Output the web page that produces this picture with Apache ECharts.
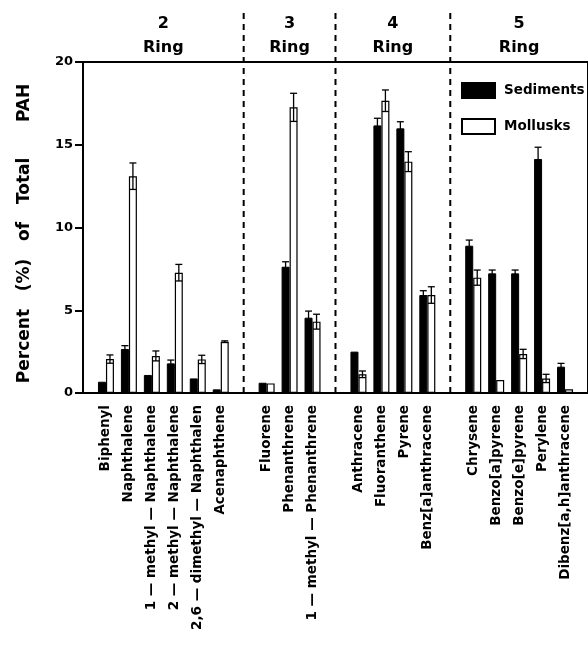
<!DOCTYPE html>
<html>
<head>
<meta charset="utf-8">
<script src="https://cdn.jsdelivr.net/npm/echarts@6/dist/echarts.min.js"></script>
<style>
  html, body { margin: 0; padding: 0; background: #fff; }
  #chart { width: 588px; height: 649px; }
</style>
</head>
<body>
<div id="chart"></div>
<script>
// Compound slots along the x axis; empty slots separate the ring groups.
const compounds = [
  '', 'Biphenyl', 'Naphthalene', '1 — methyl — Naphthalene', '2 — methyl — Naphthalene',
  '2,6 — dimethyl — Naphthalen', 'Acenaphthene', '',
  'Fluorene', 'Phenanthrene', '1 — methyl — Phenanthrene', '',
  'Anthracene', 'Fluoranthene', 'Pyrene', 'Benz[a]anthracene', '',
  'Chrysene', 'Benzo[a]pyrene', 'Benzo[e]pyrene', 'Perylene', 'Dibenz[a,h]anthracene', ''
];

// Percent of total PAH, mean and error
const sediments    = [null, 0.68, 2.66, 1.09, 1.79, 0.88, 0.22, null, 0.62, 7.63, 4.55, null, 2.50, 16.17, 15.99, 5.92, null, 8.90, 7.23, 7.23, 14.14, 1.59, null];
const sedimentsErr = [null, 0, 0.20, 0, 0.20, 0, 0, null, 0, 0.30, 0.40, null, 0, 0.43, 0.40, 0.26, null, 0.34, 0.20, 0.20, 0.71, 0.20, null];
const mollusks     = [null, 2.05, 13.10, 2.24, 7.27, 2.03, 3.10, null, 0.58, 17.26, 4.31, null, 1.13, 17.66, 13.98, 5.92, null, 6.97, 0.79, 2.36, 0.88, 0.22, null];
const mollusksErr  = [null, 0.25, 0.80, 0.30, 0.50, 0.25, 0.05, null, 0, 0.85, 0.45, null, 0.20, 0.65, 0.60, 0.50, null, 0.46, 0, 0.28, 0.25, 0, null];

// Ring-number groups
const ringNames    = ['2', '3', '4', '5'];
const ringFirst    = [1, 8, 12, 17];
const ringLast     = [6, 10, 15, 21];
const ringDividers = [7, 11, 16];

const yTicks = [0, 5, 10, 15, 20];

const FONT = 'DejaVu Sans';
const BAR_W = 8;
const CAP = 3.5;

const chart = echarts.init(document.getElementById('chart'), null, { renderer: 'canvas' });

function errorBars(values, errs, side, name) {
  const data = [];
  values.forEach((v, i) => {
    if (v != null && errs[i] > 0) data.push([i, v, errs[i]]);
  });
  return {
    type: 'custom',
    name: name,
    silent: true,
    clip: false,
    z: 5,
    encode: { x: 0, y: 1 },
    data: data,
    renderItem: (params, api) => {
      const i = api.value(0), v = api.value(1), e = api.value(2);
      const hi = api.coord([i, v + e]);
      const lo = api.coord([i, v - e]);
      const x = hi[0] + side * BAR_W / 2;
      const st = { stroke: '#000', lineWidth: 1.3 };
      return {
        type: 'group',
        children: [
          { type: 'line', shape: { x1: x, y1: hi[1], x2: x, y2: lo[1] }, style: st },
          { type: 'line', shape: { x1: x - CAP, y1: hi[1], x2: x + CAP, y2: hi[1] }, style: st },
          { type: 'line', shape: { x1: x - CAP, y1: lo[1], x2: x + CAP, y2: lo[1] }, style: st }
        ]
      };
    }
  };
}

const option = {
  animation: false,
  backgroundColor: '#fff',
  grid: {
    left: 83, top: 62, width: 507, bottom: 256,
    show: true, borderColor: '#000', borderWidth: 2, backgroundColor: 'transparent'
  },
  legend: {
    data: ['Sediments', 'Mollusks'],
    orient: 'vertical',
    left: 461, top: 82,
    padding: 0,
    itemWidth: 33, itemHeight: 15, itemGap: 19,
    icon: 'rect',
    selectedMode: false,
    textStyle: { fontFamily: FONT, fontWeight: 'bold', fontSize: 13.5, color: '#000', padding: [0, 0, 0, 4] }
  },
  xAxis: {
    type: 'category',
    data: compounds,
    boundaryGap: false,
    axisLine: { show: true, lineStyle: { color: '#000', width: 2 } },
    axisTick: { show: false },
    splitLine: { show: false },
    axisLabel: {
      interval: 0, rotate: 90, margin: 12,
      fontFamily: FONT, fontWeight: 'bold', fontSize: 13.5, color: '#000'
    }
  },
  yAxis: {
    type: 'value',
    min: yTicks[0], max: yTicks[yTicks.length - 1], interval: 5,
    name: 'Percent   (%)   of   Total      PAH',
    nameLocation: 'middle',
    nameRotate: 90,
    nameGap: 50,
    nameTextStyle: {
      fontFamily: FONT, fontWeight: 'bold', fontSize: 17, color: '#000',
      padding: [0, 12, 0, 0]
    },
    axisLine: { show: true, lineStyle: { color: '#000', width: 2 } },
    axisTick: { show: true, inside: false, length: 8, lineStyle: { color: '#000', width: 2 } },
    splitLine: { show: false },
    axisLabel: { margin: 10, fontFamily: FONT, fontWeight: 'bold', fontSize: 13, color: '#000' }
  },
  series: [
    {
      name: 'Sediments', type: 'bar', data: sediments,
      barWidth: BAR_W, barGap: '0%',
      itemStyle: { color: '#000', borderColor: '#000', borderWidth: 1 }
    },
    {
      name: 'Mollusks', type: 'bar', data: mollusks,
      barWidth: BAR_W, barGap: '0%',
      itemStyle: { color: '#fff', borderColor: '#000', borderWidth: 1.2 }
    },
    errorBars(sediments, sedimentsErr, -1, 'sedErr'),
    errorBars(mollusks, mollusksErr, 1, 'molErr'),
    {
      // dashed dividers between ring groups, reaching up into the header band
      type: 'custom', silent: true, clip: false, z: 4,
      encode: { x: 0, y: 1 },
      data: ringDividers.map(d => [d, 0]),
      renderItem: (params, api) => {
        const b = api.coord([api.value(0), 0]);
        const t = api.coord([api.value(0), 20]);
        return {
          type: 'line',
          shape: { x1: b[0], y1: b[1], x2: b[0], y2: t[1] - 50 },
          style: { stroke: '#000', lineWidth: 2, lineDash: [6, 5] }
        };
      }
    },
    {
      // ring-number headers above each group
      type: 'custom', silent: true, clip: false, z: 4,
      encode: { x: 0, y: 2 },
      data: ringFirst.map((f, k) => [f, ringLast[k], 20]),
      renderItem: (params, api) => {
        const a = api.coord([api.value(0), api.value(2)]);
        const b = api.coord([api.value(1), api.value(2)]);
        const cx = (a[0] + b[0]) / 2;
        const font = { fontFamily: FONT, fontWeight: 'bold', fontSize: 16, fill: '#000', align: 'center', verticalAlign: 'middle' };
        return {
          type: 'group',
          children: [
            { type: 'text', x: cx, y: a[1] - 38, style: Object.assign({ text: ringNames[params.dataIndex] }, font) },
            { type: 'text', x: cx, y: a[1] - 14, style: Object.assign({ text: 'Ring' }, font) }
          ]
        };
      }
    }
  ]
};

chart.setOption(option);
</script>
</body>
</html>
